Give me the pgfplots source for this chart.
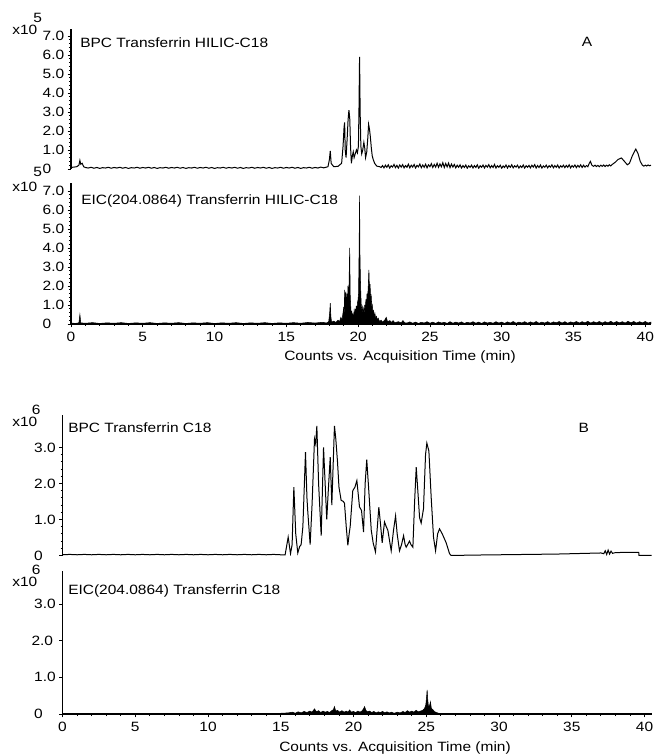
\documentclass[border=0pt]{standalone}
\usepackage{fontspec}
\setmainfont{Liberation Sans}[FakeStretch=1.15]
\usepackage{pgfplots}
\pgfplotsset{compat=1.18}

\newcommand{\lab}{\fontsize{10.1}{12}\selectfont}

\pgfplotsset{
  chrom/.style={
    scale only axis,
    anchor=south west,
    xmin=0,
    ymin=0,
    tick align=outside,
    axis line style={line width=1.4pt},
    major tick length=2.5pt,
    minor tick length=1.5pt,
    every tick/.style={black, line width=0.6pt},
    minor x tick num=4,
    minor y tick num=4,
    xtick={0,5,...,40},
    xticklabels={0,5,10,15,20,25,30,35,40},
    tick label style={font=\lab},
    yticklabel style={anchor=east, text width=16.5pt, align=left, inner sep=0pt, xshift=-2pt},
    axis y line*=left,
  },
  toppanel/.style={chrom, axis x line=none},
  botpanel/.style={chrom, axis x line*=bottom},
  panelA/.style={width=435pt, xmax=40.4, ytick={0,1,2,3,4,5,6,7},
    yticklabels={0,1.0,2.0,3.0,4.0,5.0,6.0,7.0}},
  panelB/.style={width=441.75pt, xmax=40.48, ytick={0,1,2,3},
    yticklabels={0,1.0,2.0,3.0}},
}

\begin{document}
\begin{tikzpicture}
\useasboundingbox (0,0) rectangle (491.25pt,567pt);

% ---------- A top: BPC HILIC-C18 (x10^5)
\begin{axis}[toppanel, panelA, at={(53.25pt,440.25pt)}, height=105pt, ymax=7.37]
\addplot[black, line width=0.75pt] coordinates {
(0,0.08)(0.2,0.1)(0.4,0.12)(0.55,0.2)(0.62,0.45)(0.68,0.25)(0.78,0.3)(0.88,0.12)(1.0,0.08)
(1.2,0.05)(1.4,0.09)(1.6,0.04)(1.8,0.08)(2.0,0.03)(2.2,0.07)(2.4,0.05)(2.6,0.09)(2.8,0.04)(3.0,0.08)
(3.2,0.05)(3.4,0.09)(3.6,0.04)(3.8,0.08)(4.0,0.03)(4.2,0.07)(4.4,0.05)(4.6,0.09)(4.8,0.04)(5.0,0.08)
(5.2,0.05)(5.4,0.09)(5.6,0.04)(5.8,0.08)(6.0,0.03)(6.2,0.07)(6.4,0.05)(6.6,0.09)(6.8,0.04)(7.0,0.08)
(7.2,0.05)(7.4,0.09)(7.6,0.04)(7.8,0.08)(8.0,0.03)(8.2,0.07)(8.4,0.05)(8.6,0.09)(8.8,0.04)(9.0,0.08)
(9.2,0.05)(9.4,0.09)(9.6,0.04)(9.8,0.08)(10.0,0.03)(10.2,0.07)(10.4,0.05)(10.6,0.09)(10.8,0.04)(11.0,0.08)
(11.2,0.05)(11.4,0.09)(11.6,0.04)(11.8,0.08)(12.0,0.03)(12.2,0.07)(12.4,0.05)(12.6,0.09)(12.8,0.04)(13.0,0.08)
(13.2,0.05)(13.4,0.09)(13.6,0.04)(13.8,0.08)(14.0,0.03)(14.2,0.07)(14.4,0.05)(14.6,0.09)(14.8,0.04)(15.0,0.08)
(15.2,0.05)(15.4,0.09)(15.6,0.04)(15.8,0.08)(16.0,0.03)(16.2,0.07)(16.4,0.05)(16.6,0.09)(16.8,0.04)(17.0,0.08)
(17.2,0.05)(17.4,0.1)(17.6,0.06)(17.8,0.1)
(17.9,0.12)(18.0,0.5)(18.06,0.95)(18.12,0.3)(18.3,0.12)(18.6,0.14)(18.85,0.3)(18.95,1.2)
(19.02,2.2)(19.06,2.45)(19.1,1.0)(19.16,0.6)(19.25,1.8)(19.3,2.6)(19.36,3.1)(19.42,2.6)
(19.47,1.2)(19.53,0.3)(19.6,0.7)(19.66,0.9)(19.72,0.6)(19.8,0.8)(19.88,1.0)(19.95,0.85)
(20.02,1.2)(20.06,3.2)(20.1,5.9)(20.14,3.0)(20.19,1.2)(20.25,0.8)(20.32,1.0)(20.4,1.4)
(20.46,1.1)(20.52,0.6)(20.6,0.9)(20.67,1.6)(20.73,2.35)(20.79,2.1)(20.85,1.7)(20.92,1.1)
(20.98,0.7)(21.05,0.5)(21.15,0.3)(21.3,0.15)(21.5,0.12)
(21.6,0.08)(21.7,0.18)(21.8,0.06)(21.9,0.2)(22.0,0.09)(22.1,0.22)(22.2,0.05)(22.3,0.17)(22.4,0.1)(22.5,0.24)
(22.6,0.07)(22.7,0.19)(22.8,0.05)(22.9,0.21)(23.0,0.1)(23.1,0.23)(23.2,0.06)(23.3,0.18)(23.4,0.09)(23.5,0.25)
(23.6,0.06)(23.7,0.2)(23.8,0.1)(23.9,0.24)(24.0,0.05)(24.1,0.19)(24.2,0.11)(24.3,0.26)(24.4,0.07)(24.5,0.21)
(24.6,0.09)(24.7,0.25)(24.8,0.06)(24.9,0.22)(25.0,0.12)(25.1,0.28)(25.2,0.08)(25.3,0.24)(25.4,0.1)(25.5,0.3)
(25.6,0.09)(25.7,0.27)(25.8,0.12)(25.9,0.33)(26.0,0.08)(26.1,0.29)(26.2,0.11)(26.3,0.31)(26.4,0.07)(26.5,0.26)
(26.6,0.1)(26.7,0.24)(26.8,0.06)(26.9,0.2)(27.0,0.09)(27.1,0.22)(27.2,0.05)(27.3,0.18)(27.4,0.08)(27.5,0.21)
(27.6,0.04)(27.7,0.17)(27.8,0.09)(27.9,0.2)(28.0,0.05)(28.1,0.18)(28.2,0.08)(28.3,0.22)(28.4,0.04)(28.5,0.17)
(28.6,0.09)(28.7,0.21)(28.8,0.05)(28.9,0.19)(29.0,0.1)(29.1,0.23)(29.2,0.06)(29.3,0.18)(29.4,0.08)(29.5,0.24)
(29.6,0.05)(29.7,0.17)(29.8,0.09)(29.9,0.2)(30.0,0.04)(30.1,0.16)(30.2,0.08)(30.3,0.21)(30.4,0.05)(30.5,0.18)
(30.6,0.09)(30.7,0.22)(30.8,0.06)(30.9,0.17)(31.0,0.1)(31.1,0.2)(31.2,0.05)(31.3,0.16)(31.4,0.08)(31.5,0.21)
(31.6,0.05)(31.7,0.17)(31.8,0.09)(31.9,0.19)(32.0,0.06)(32.1,0.2)(32.2,0.1)(32.3,0.23)(32.4,0.05)(32.5,0.18)
(32.6,0.08)(32.7,0.21)(32.8,0.05)(32.9,0.16)(33.0,0.09)(33.1,0.2)(33.2,0.06)(33.3,0.17)(33.4,0.1)(33.5,0.22)
(33.6,0.06)(33.7,0.18)(33.8,0.09)(33.9,0.21)(34.0,0.05)(34.1,0.17)(34.2,0.1)(34.3,0.2)(34.4,0.07)(34.5,0.19)
(34.6,0.09)(34.7,0.22)(34.8,0.06)(34.9,0.18)(35.0,0.1)(35.1,0.21)(35.2,0.07)(35.3,0.19)(35.4,0.1)(35.5,0.22)
(35.6,0.08)(35.7,0.2)(35.8,0.1)(35.9,0.18)(36.0,0.12)
(36.1,0.3)(36.18,0.4)(36.28,0.2)(36.4,0.14)(36.5,0.2)(36.6,0.13)(36.7,0.19)(36.8,0.12)(36.9,0.2)
(37.0,0.14)(37.1,0.21)(37.2,0.13)(37.3,0.2)(37.4,0.15)(37.5,0.22)(37.6,0.16)(37.7,0.24)
(37.9,0.35)(38.1,0.5)(38.34,0.58)(38.55,0.4)(38.75,0.22)(38.9,0.3)(39.1,0.7)(39.34,1.05)
(39.5,0.8)(39.65,0.4)(39.8,0.2)(39.9,0.15)(40.0,0.2)(40.1,0.16)(40.2,0.21)(40.3,0.17)(40.4,0.2)
};
\end{axis}

% ---------- A bottom: EIC(204.0864) HILIC-C18 (x10^5)
\begin{axis}[botpanel, panelA, at={(53.25pt,324pt)}, height=105.75pt, ymax=7.42]
\addplot[black, fill=black, line width=0.4pt] coordinates {
(0,0.05)(0.3,0.03)(0.55,0.06)(0.62,0.5)(0.68,0.06)(1.0,0.04)(1.5,0.07)(2.0,0.03)(2.5,0.06)
(3.0,0.04)(3.5,0.07)(4.0,0.03)(4.5,0.06)(5.0,0.04)(5.5,0.07)(6.0,0.03)(6.5,0.06)(7.0,0.04)
(7.5,0.07)(8.0,0.03)(8.5,0.06)(9.0,0.04)(9.5,0.07)(10.0,0.03)(10.5,0.06)(11.0,0.04)
(11.5,0.07)(12.0,0.03)(12.5,0.06)(13.0,0.04)(13.5,0.07)(14.0,0.03)(14.5,0.06)(15.0,0.04)
(15.5,0.07)(16.0,0.04)(16.5,0.08)(17.0,0.05)(17.5,0.09)
(17.6,0.08)(17.8,0.05)(17.95,0.12)(18.02,0.6)(18.06,1.1)(18.1,0.4)(18.15,0.1)(18.3,0.15)
(18.45,0.08)(18.6,0.2)(18.7,0.12)(18.8,0.35)(18.88,0.2)(18.94,0.55)(19.0,0.9)(19.03,0.4)
(19.06,1.8)(19.1,0.8)(19.14,1.7)(19.18,0.9)(19.22,1.6)(19.26,1.0)(19.29,2.0)(19.33,1.2)
(19.37,2.2)(19.41,4.0)(19.45,1.5)(19.48,1.0)(19.52,0.4)(19.56,0.7)(19.6,0.3)(19.64,0.5)
(19.68,0.35)(19.72,0.7)(19.76,0.45)(19.8,0.8)(19.84,0.5)(19.87,0.95)(19.91,0.6)(19.95,1.1)
(19.99,1.25)(20.03,1.6)(20.07,4.0)(20.1,6.75)(20.13,3.5)(20.17,2.0)(20.21,1.1)(20.25,0.7)
(20.29,0.9)(20.34,0.5)(20.38,0.8)(20.42,0.55)(20.46,1.0)(20.5,0.7)(20.54,1.3)(20.58,1.0)
(20.62,1.6)(20.66,1.3)(20.7,1.9)(20.75,2.85)(20.79,1.8)(20.83,2.1)(20.87,1.4)(20.91,1.5)
(20.95,0.9)(20.99,1.0)(21.03,0.6)(21.08,0.7)(21.12,0.4)(21.17,0.55)(21.22,0.3)(21.28,0.4)
(21.34,0.2)(21.4,0.3)(21.5,0.12)(21.6,0.2)(21.7,0.1)(21.85,0.2)(21.96,0.35)(22.05,0.12)
(22.2,0.18)(22.35,0.08)(22.43,0.18)(22.55,0.07)(22.8,0.12)(23.0,0.06)(23.12,0.18)(23.25,0.06)
(23.4,0.05)(23.6,0.11)(23.8,0.04)(24.0,0.1)(24.2,0.03)(24.4,0.09)(24.6,0.05)(24.8,0.12)
(25.0,0.04)(25.2,0.1)(25.4,0.03)(25.6,0.11)(25.8,0.05)(26.0,0.09)(26.2,0.03)(26.4,0.12)
(26.6,0.04)(26.8,0.1)(27.0,0.05)(27.2,0.11)(27.4,0.03)(27.6,0.09)(27.8,0.05)(28.0,0.12)
(28.2,0.04)(28.4,0.1)(28.6,0.03)(28.8,0.11)(29.0,0.05)(29.2,0.09)(29.4,0.04)(29.6,0.12)
(29.8,0.05)(30.0,0.1)(30.2,0.03)(30.4,0.11)(30.6,0.05)(30.8,0.13)(31.0,0.04)(31.2,0.1)
(31.4,0.05)(31.6,0.12)(31.8,0.04)(32.0,0.11)(32.2,0.05)(32.4,0.13)(32.6,0.04)(32.8,0.1)
(33.0,0.05)(33.2,0.12)(33.4,0.04)(33.6,0.11)(33.8,0.06)(34.0,0.13)(34.2,0.05)(34.4,0.12)
(34.6,0.04)(34.8,0.11)(35.0,0.06)(35.2,0.13)(35.4,0.05)(35.6,0.12)(35.8,0.06)(36.0,0.14)
(36.2,0.05)(36.4,0.12)(36.6,0.06)(36.8,0.13)(37.0,0.05)(37.2,0.12)(37.4,0.06)(37.6,0.14)
(37.8,0.05)(38.0,0.13)(38.2,0.06)(38.4,0.12)(38.6,0.05)(38.8,0.14)(39.0,0.06)(39.2,0.13)
(39.4,0.05)(39.6,0.12)(39.8,0.06)(40.0,0.13)(40.2,0.05)(40.4,0.1)
} \closedcycle;
\end{axis}

% ---------- B top: BPC C18 (x10^6)
\begin{axis}[toppanel, panelB, at={(46.875pt,150.375pt)}, height=105.375pt, ymax=3.9]
\addplot[black, line width=0.75pt] coordinates {
(0,0.02)(0.5,0.03)(1,0.02)(1.5,0.03)(2,0.02)(2.5,0.03)(3,0.02)(3.5,0.03)(4,0.02)(4.5,0.03)
(5,0.02)(5.5,0.03)(6,0.02)(6.5,0.03)(7,0.02)(7.5,0.03)(8,0.02)(8.5,0.03)(9,0.02)(9.5,0.03)
(10,0.02)(10.5,0.03)(11,0.02)(11.5,0.03)(12,0.02)(12.5,0.03)(13,0.02)(13.5,0.03)(14,0.02)
(14.5,0.03)(15.0,0.02)(15.3,0.02)
(15.51,0.51)(15.67,0.05)(15.78,0.3)(15.90,1.90)(16.03,0.6)(16.17,0.07)(16.3,0.25)(16.4,0.3)
(16.52,0.8)(16.70,2.87)(16.80,1.6)(16.86,1.2)(17.02,0.3)(17.15,1.4)(17.32,3.24)(17.40,3.1)
(17.48,3.6)(17.60,2.0)(17.78,0.55)(17.94,3.0)(18.05,2.0)(18.16,1.0)(18.28,1.9)(18.40,2.73)
(18.51,1.4)(18.69,3.6)(18.78,3.25)(18.90,2.6)(19.0,1.9)(19.15,1.53)(19.30,1.5)(19.38,1.45)
(19.50,0.8)(19.61,0.28)(19.70,0.6)(19.77,0.8)(19.95,1.8)(20.10,1.9)(20.23,2.08)(20.35,1.6)
(20.41,1.35)(20.55,1.25)(20.69,0.65)(20.80,2.0)(20.91,2.66)(21.05,1.8)(21.22,0.7)(21.35,0.35)
(21.51,0.1)(21.62,0.7)(21.74,1.34)(21.85,0.9)(21.97,0.35)(22.13,0.93)(22.25,0.8)(22.36,0.7)
(22.59,0.13)(22.75,0.7)(22.89,1.1)(23.0,0.6)(23.16,0.13)(23.3,0.3)(23.44,0.55)(23.55,0.3)
(23.62,0.23)(23.85,0.4)(23.95,0.3)(24.08,0.23)(24.20,1.5)(24.31,2.45)(24.42,1.8)(24.54,1.05)
(24.65,0.9)(24.81,1.3)(24.95,2.8)(25.04,3.12)(25.18,2.9)(25.34,1.6)(25.50,0.5)(25.64,0.13)
(25.78,0.6)(25.91,0.74)(26.1,0.6)(26.37,0.35)(26.6,0.05)(26.71,0.0)
(28,0.01)(30,0.02)(32,0.03)(34,0.04)(36,0.06)(37.0,0.07)(37.2,0.05)(37.3,0.13)(37.4,0.03)
(37.5,0.15)(37.6,0.04)(37.7,0.12)(37.8,0.06)(38,0.08)(39,0.09)(39.6,0.09)(39.62,0.0)(40.48,0.0)
};
\end{axis}

% ---------- B bottom: EIC(204.0864) C18 (x10^6)
\begin{axis}[botpanel, panelB, at={(46.875pt,31.5pt)}, height=107pt, ymax=3.89,
  ytick={0,1,3}, yticklabels={0,1.0,3.0},
  extra y ticks={2}, extra y tick labels={2.0},
  extra y tick style={yticklabel style={anchor=east, text width=16.5pt, align=left, inner sep=0pt, xshift=-2pt}}]
\addplot[black, fill=black, line width=0.4pt] coordinates {
(0,0.015)(1,0.02)(2,0.015)(3,0.02)(4,0.015)(5,0.02)(6,0.015)(7,0.02)(8,0.015)(9,0.02)
(10,0.015)(11,0.02)(12,0.015)(13,0.02)(14,0.015)(15,0.02)(15.5,0.03)(15.8,0.05)(16.0,0.02)
(16.2,0.06)(16.4,0.03)(16.6,0.07)(16.8,0.04)(17.0,0.08)(17.15,0.05)(17.32,0.14)(17.45,0.06)
(17.6,0.09)(17.75,0.04)(17.9,0.08)(18.05,0.05)(18.2,0.07)(18.35,0.04)(18.5,0.09)(18.62,0.12)
(18.69,0.2)(18.78,0.08)(18.9,0.1)(19.05,0.05)(19.2,0.09)(19.35,0.05)(19.5,0.08)(19.62,0.05)
(19.73,0.11)(19.85,0.05)(20.0,0.07)(20.15,0.04)(20.3,0.08)(20.45,0.05)(20.6,0.09)(20.7,0.15)
(20.76,0.2)(20.85,0.1)(20.95,0.06)(21.1,0.08)(21.25,0.04)(21.4,0.07)(21.55,0.03)(21.7,0.06)
(21.85,0.04)(22.0,0.07)(22.15,0.03)(22.3,0.06)(22.45,0.03)(22.6,0.05)(22.8,0.02)(23.0,0.05)
(23.2,0.03)(23.4,0.07)(23.55,0.04)(23.7,0.09)(23.85,0.05)(24.0,0.08)(24.15,0.05)(24.3,0.1)
(24.45,0.06)(24.6,0.08)(24.75,0.1)(24.88,0.15)(24.97,0.25)(25.03,0.5)(25.06,0.66)(25.1,0.4)
(25.15,0.2)(25.22,0.22)(25.29,0.33)(25.35,0.15)(25.45,0.12)(25.55,0.07)(25.7,0.04)(25.85,0.02)
(26,0.015)(27,0.02)(28,0.015)(29,0.02)(30,0.015)(31,0.02)(32,0.015)(33,0.02)(34,0.015)
(35,0.02)(36,0.015)(37,0.02)(38,0.015)(39,0.02)(40,0.015)(40.48,0.02)
} \closedcycle;
\end{axis}

% ---------- texts
\node[font=\lab, anchor=base west, inner sep=0pt] at (9pt,540.75pt) {x10};
\node[font=\lab, anchor=base west, inner sep=0pt] at (24.75pt,549.75pt) {5};
\node[font=\lab, anchor=base west, inner sep=0pt] at (9pt,423pt) {x10};
\node[font=\lab, anchor=base west, inner sep=0pt] at (24.75pt,434.25pt) {5};
\node[font=\lab, anchor=base west, inner sep=0pt] at (9pt,246.75pt) {x10};
\node[font=\lab, anchor=base west, inner sep=0pt] at (23.75pt,255.75pt) {6};
\node[font=\lab, anchor=base west, inner sep=0pt] at (9pt,126.75pt) {x10};
\node[font=\lab, anchor=base west, inner sep=0pt] at (23.75pt,135.75pt) {6};

\node[font=\lab, anchor=base west, inner sep=0pt] at (60pt,531.5pt) {BPC Transferrin HILIC-C18};
\node[font=\lab, anchor=base west, inner sep=0pt] at (60.75pt,413.25pt) {EIC(204.0864) Transferrin HILIC-C18};
\node[font=\lab, anchor=base west, inner sep=0pt] at (51pt,242.25pt) {BPC Transferrin C18};
\node[font=\lab, anchor=base west, inner sep=0pt] at (51pt,120.75pt) {EIC(204.0864) Transferrin C18};
\node[font=\lab, anchor=base west, inner sep=0pt] at (436.25pt,531.75pt) {A};
\node[font=\lab, anchor=base west, inner sep=0pt] at (433.75pt,242.5pt) {B};

\node[font=\lab, anchor=base, inner sep=0pt] at (300pt,296.6pt) {Counts vs. Acquisition Time (min)};
\node[font=\lab, anchor=base, inner sep=0pt] at (296.25pt,3.4pt) {Counts vs. Acquisition Time (min)};
\end{tikzpicture}
\end{document}
